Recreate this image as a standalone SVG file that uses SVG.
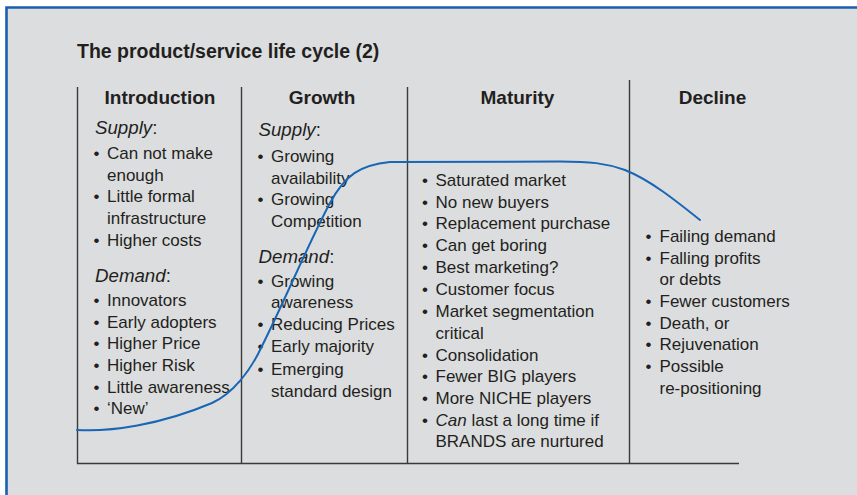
<svg xmlns="http://www.w3.org/2000/svg" width="857" height="495" viewBox="0 0 857 495">
<style>
text{font-family:"Liberation Sans",Arial,Helvetica,sans-serif;fill:#231f20;}
.t{font-size:19.5px;font-weight:bold;}
.h{font-size:19px;font-weight:bold;text-anchor:middle;}
.b{font-size:17px;}
.s{font-size:18.7px;}
.i{font-style:italic;}
.grid{stroke:#3a3a3a;stroke-width:1.4;fill:none;}
.curve{stroke:#1866b4;stroke-width:2;fill:none;stroke-linecap:round;}
</style>
<rect x="0" y="0" width="857" height="495" fill="#ffffff"/>
<rect x="6" y="7" width="851" height="488" fill="#dcdddf"/>
<path d="M6.5,495 V7.5 H857" stroke="#1a5fb0" stroke-width="2.6" fill="none"/>
<text class="t" x="77" y="58">The product/service life cycle (2)</text>
<g id="frame" class="grid">
<path d="M77.5,87 V463.5 H739"/>
<path d="M241.5,87 V463.5"/>
<path d="M407.5,87 V463.5"/>
<path d="M629.5,80 V463.5"/>
</g>
<g id="introduction">
<text class="h" x="160" y="104">Introduction</text>
<text class="s" x="95" y="133.5"><tspan class="i">Supply</tspan>:</text>
<text class="b" x="93.5" y="159">•</text><text class="b" x="107" y="159">Can not make</text>
<text class="b" x="107" y="180.7">enough</text>
<text class="b" x="93.5" y="202.3">•</text><text class="b" x="107" y="202.3">Little formal</text>
<text class="b" x="107" y="224">infrastructure</text>
<text class="b" x="93.5" y="245.7">•</text><text class="b" x="107" y="245.7">Higher costs</text>
<text class="s" x="95" y="281.7"><tspan class="i">Demand</tspan>:</text>
<text class="b" x="93.5" y="306">•</text><text class="b" x="107" y="306">Innovators</text>
<text class="b" x="93.5" y="327.7">•</text><text class="b" x="107" y="327.7">Early adopters</text>
<text class="b" x="93.5" y="349.3">•</text><text class="b" x="107" y="349.3">Higher Price</text>
<text class="b" x="93.5" y="371">•</text><text class="b" x="107" y="371">Higher Risk</text>
<text class="b" x="93.5" y="392.7">•</text><text class="b" x="107" y="392.7">Little awareness</text>
<text class="b" x="93.5" y="414.3">•</text><text class="b" x="107" y="414.3">‘New’</text>
</g>
<g id="growth">
<text class="h" x="322" y="104">Growth</text>
<text class="s" x="258.5" y="135.5"><tspan class="i">Supply</tspan>:</text>
<text class="b" x="257.5" y="162.3">•</text><text class="b" x="271" y="162.3">Growing</text>
<text class="b" x="271" y="183.7">availability</text>
<text class="b" x="257.5" y="205">•</text><text class="b" x="271" y="205">Growing</text>
<text class="b" x="271" y="226.7">Competition</text>
<text class="s" x="258.5" y="263.3"><tspan class="i">Demand</tspan>:</text>
<text class="b" x="257.5" y="286.7">•</text><text class="b" x="271" y="286.7">Growing</text>
<text class="b" x="271" y="308.3">awareness</text>
<text class="b" x="257.5" y="330">•</text><text class="b" x="271" y="330">Reducing Prices</text>
<text class="b" x="257.5" y="352.3">•</text><text class="b" x="271" y="352.3">Early majority</text>
<text class="b" x="257.5" y="375">•</text><text class="b" x="271" y="375">Emerging</text>
<text class="b" x="271" y="396.7">standard design</text>
</g>
<g id="maturity">
<text class="h" x="517.5" y="104">Maturity</text>
<text class="b" x="422" y="186">•</text><text class="b" x="435.5" y="186">Saturated market</text>
<text class="b" x="422" y="207.7">•</text><text class="b" x="435.5" y="207.7">No new buyers</text>
<text class="b" x="422" y="229.3">•</text><text class="b" x="435.5" y="229.3">Replacement purchase</text>
<text class="b" x="422" y="251.3">•</text><text class="b" x="435.5" y="251.3">Can get boring</text>
<text class="b" x="422" y="273.3">•</text><text class="b" x="435.5" y="273.3">Best marketing?</text>
<text class="b" x="422" y="295">•</text><text class="b" x="435.5" y="295">Customer focus</text>
<text class="b" x="422" y="316.7">•</text><text class="b" x="435.5" y="316.7">Market segmentation</text>
<text class="b" x="435.5" y="338.7">critical</text>
<text class="b" x="422" y="360.7">•</text><text class="b" x="435.5" y="360.7">Consolidation</text>
<text class="b" x="422" y="382.3">•</text><text class="b" x="435.5" y="382.3">Fewer BIG players</text>
<text class="b" x="422" y="404">•</text><text class="b" x="435.5" y="404">More NICHE players</text>
<text class="b" x="422" y="425.7">•</text><text class="b" x="435.5" y="425.7"><tspan class="i">Can</tspan> last a long time if</text>
<text class="b" x="435.5" y="447.3">BRANDS are nurtured</text>
</g>
<g id="decline">
<text class="h" x="712.5" y="104">Decline</text>
<text class="b" x="645.5" y="242">•</text><text class="b" x="659.5" y="242">Failing demand</text>
<text class="b" x="645.5" y="263.7">•</text><text class="b" x="659.5" y="263.7">Falling profits</text>
<text class="b" x="659.5" y="285.3">or debts</text>
<text class="b" x="645.5" y="307">•</text><text class="b" x="659.5" y="307">Fewer customers</text>
<text class="b" x="645.5" y="328.7">•</text><text class="b" x="659.5" y="328.7">Death, or</text>
<text class="b" x="645.5" y="350.3">•</text><text class="b" x="659.5" y="350.3">Rejuvenation</text>
<text class="b" x="645.5" y="372">•</text><text class="b" x="659.5" y="372">Possible</text>
<text class="b" x="659.5" y="393.7">re-positioning</text>
</g>
<g id="connectors">
<path class="curve" d="M77,430 C110,432 160,425 212,403 C232,394 250,372 262,346 C285,300 310,240 330,203 C345,175 360,165 390,162 L560,161.5 C590,161.5 605,163 625,170 C650,180 675,200 700,220"/>
</g>
</svg>
